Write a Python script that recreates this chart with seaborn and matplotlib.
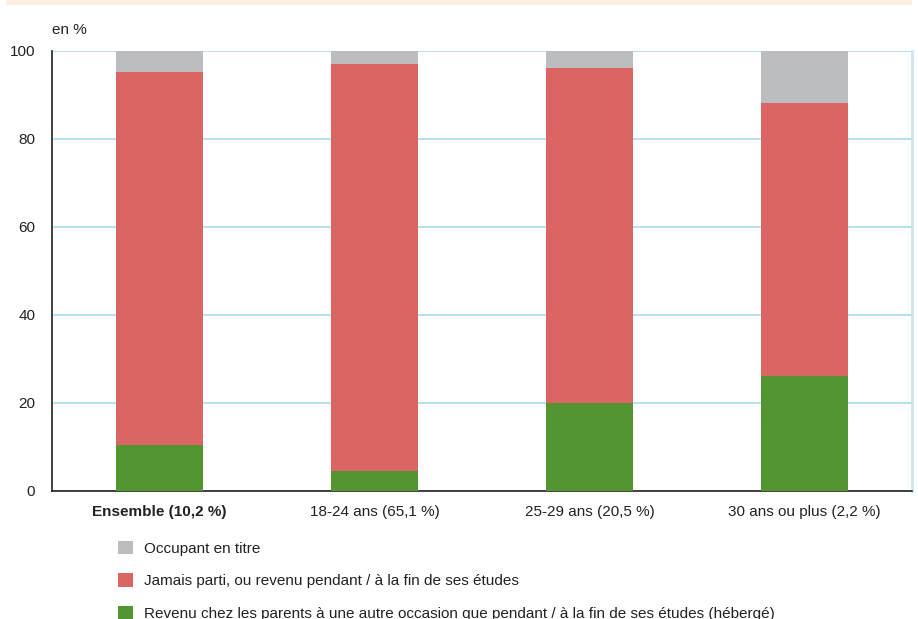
import numpy as np
import pandas as pd
import matplotlib
matplotlib.use('Agg')
import matplotlib.pyplot as plt
from matplotlib.patches import Patch, Rectangle
import seaborn as sns

categories = ['Ensemble (10,2 %)', '18-24 ans (65,1 %)', '25-29 ans (20,5 %)', '30 ans ou plus (2,2 %)']
heberge = [10.5, 4.5, 20.0, 26.1]
jamais_parti = [84.7, 92.5, 76.1, 62.1]
occupant = [4.8, 3.0, 3.9, 11.8]
series_names = ['Occupant en titre',
                'Jamais parti, ou revenu pendant / à la fin de ses études',
                'Revenu chez les parents à une autre occasion que pendant / à la fin de ses études (hébergé)']
colors = ['#bcbdc1', '#db6465', '#529531']

sns.set_theme(style='white')
plt.rcParams['font.family'] = ['Liberation Sans Narrow', 'Liberation Sans', 'DejaVu Sans']

df = pd.DataFrame({'cat': categories, 'heb': heberge, 'jam': jamais_parti, 'occ': occupant})

fig = plt.figure(figsize=(9.18, 6.19), dpi=100)
ax = fig.add_axes([52/918, 1-491/619, 860/918, 440/619])

# bandeau du titre (coupé)
fig.patches.append(Rectangle((6/918, 1-5/619), 906/918, 5/619, transform=fig.transFigure,
                             facecolor='#fdeee2', edgecolor='none'))

bottom = np.zeros(len(categories))
for col, c in zip(['heb', 'jam', 'occ'], [colors[2], colors[1], colors[0]]):
    sns.barplot(data=df, x='cat', y=col, color=c, width=0.405, bottom=bottom,
                saturation=1, linewidth=0, ax=ax, zorder=3)
    bottom = bottom + df[col].values

ax.set_ylim(0, 100)
ax.set_xlim(-0.5, 3.5)
ax.set_yticks([0, 20, 40, 60, 80, 100])
ax.yaxis.grid(True, color='#a8dbee', linewidth=1.2, zorder=0)
ax.set_axisbelow(True)
ax.set_xlabel('')
ax.set_ylabel('')
ax.tick_params(axis='both', length=0, labelsize=11, colors='#222222')
ax.tick_params(axis='y', pad=12)
ax.tick_params(axis='x', pad=10)
ax.get_xticklabels()[0].set_fontweight('bold')
for s in ['left', 'bottom']:
    ax.spines[s].set_color('#222222')
    ax.spines[s].set_linewidth(1.2)
ax.spines['top'].set_visible(False)
ax.spines['right'].set_color('#cde4f2')
ax.spines['right'].set_linewidth(2)

fig.text(52/918, 1-30/619, 'en %', fontsize=11, color='#222222', va='center')

handles = [Patch(facecolor=c, edgecolor='none') for c in colors]
fig.legend(handles, series_names, loc='upper left', bbox_to_anchor=(118/918, 1-541/619),
           frameon=False, fontsize=11, labelcolor='#222222', handlelength=0.95, handleheight=0.95,
           handletextpad=0.75, labelspacing=1.15, borderpad=0, borderaxespad=0)

fig.savefig('out.png', dpi=100)
